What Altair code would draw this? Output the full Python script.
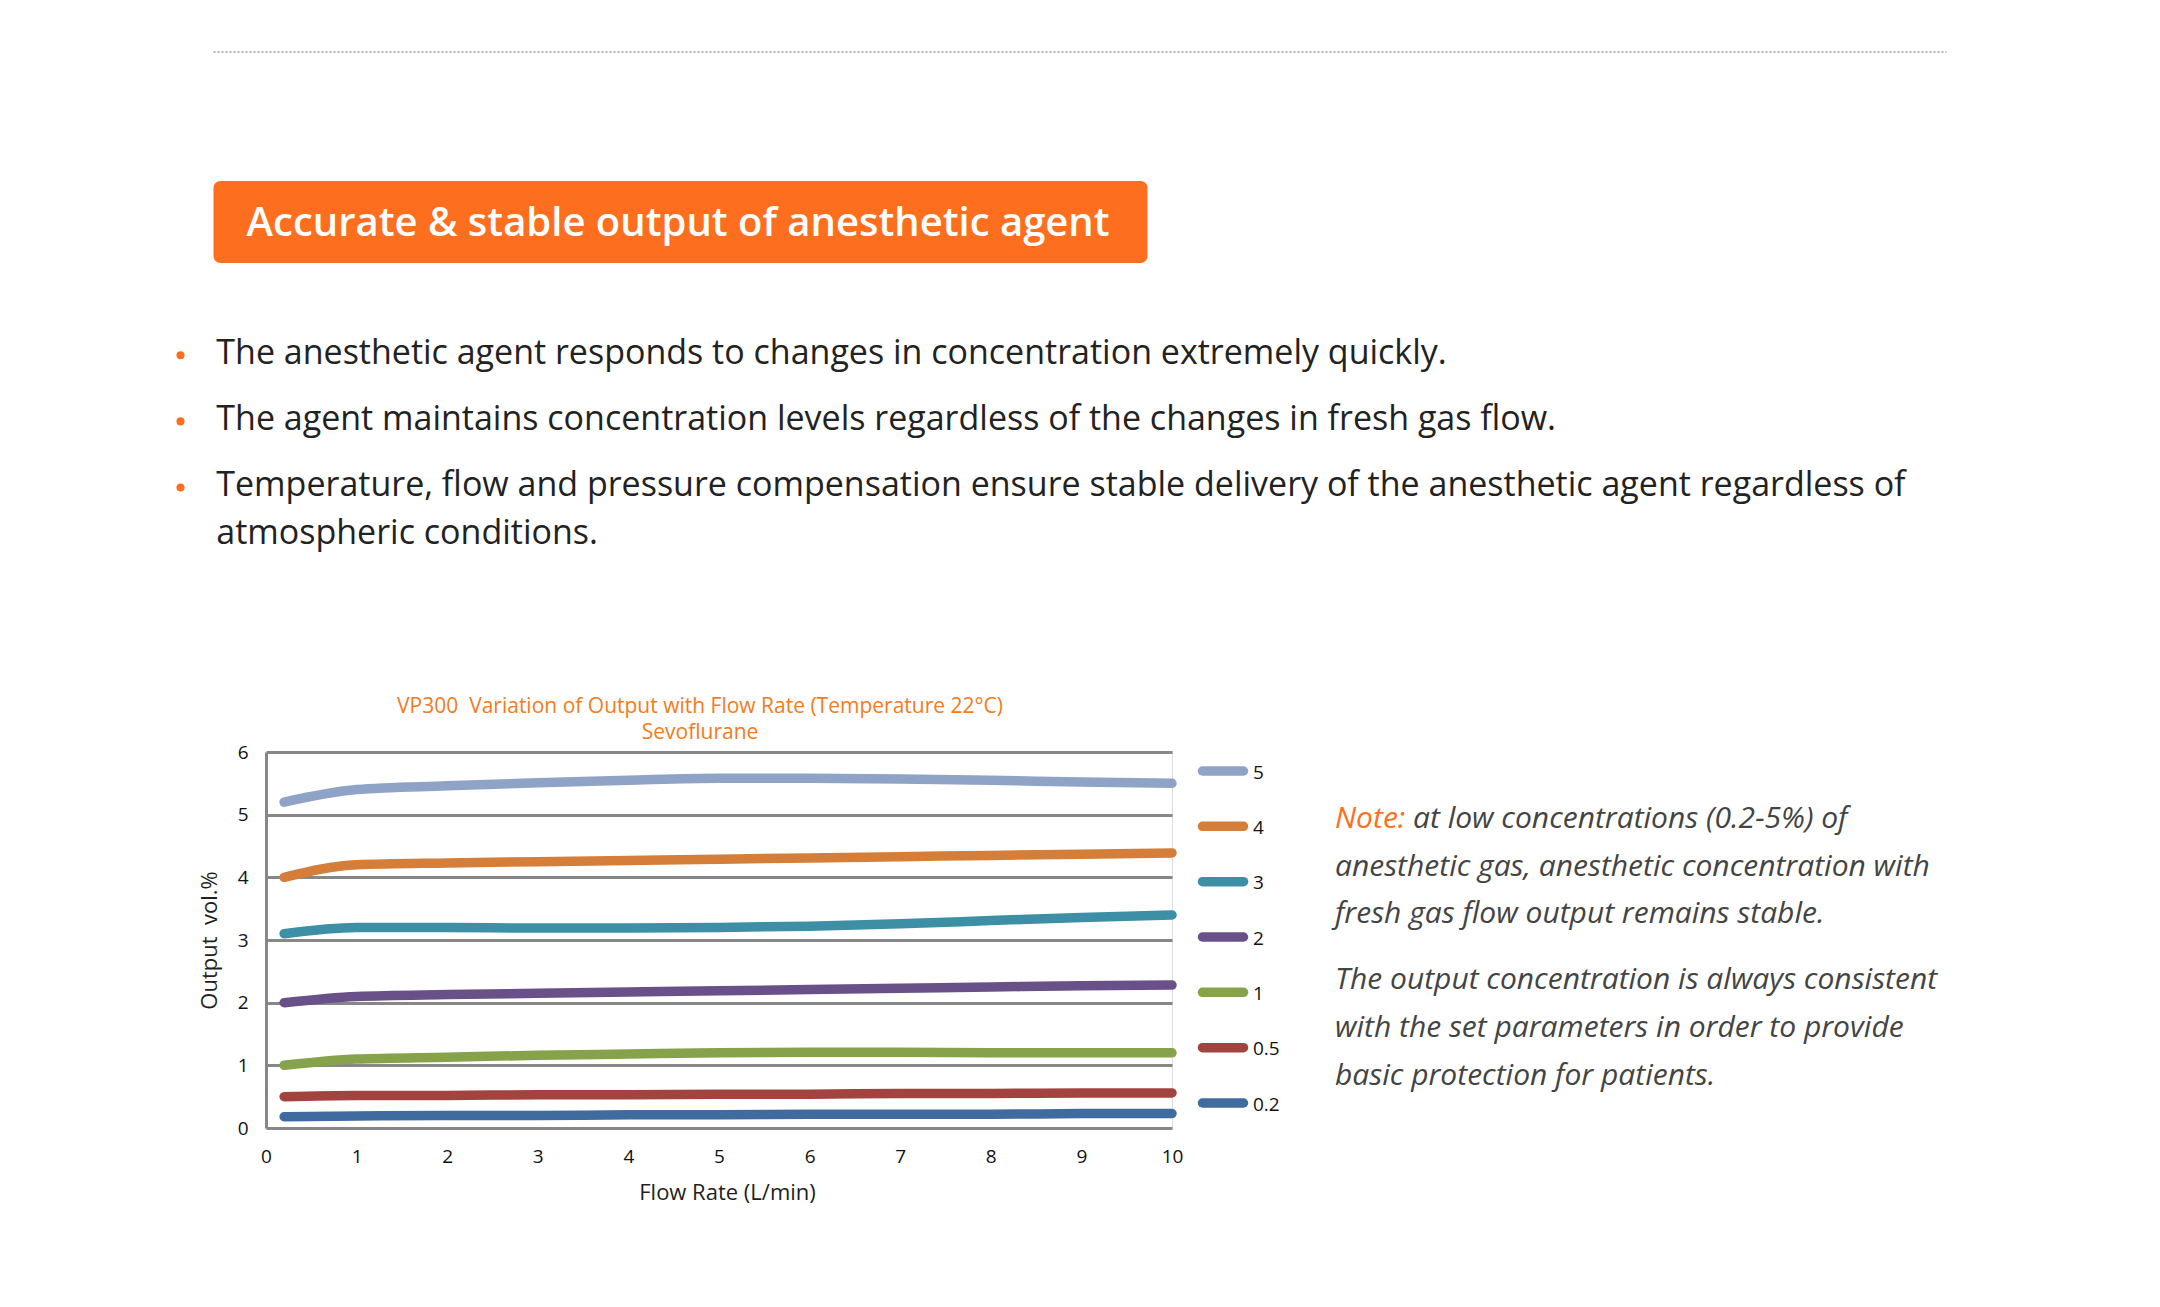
import altair as alt
import pandas as pd

# ---------------- data ----------------
flow = [0.2, 1, 2, 3, 4, 5, 6, 7, 8, 9, 10]
series_order = ["5", "4", "3", "2", "1", "0.5", "0.2"]
out_5 = [5.20, 5.40, 5.46, 5.51, 5.55, 5.58, 5.58, 5.57, 5.55, 5.52, 5.50]
out_4 = [4.00, 4.20, 4.23, 4.25, 4.27, 4.29, 4.31, 4.33, 4.35, 4.37, 4.39]
out_3 = [3.10, 3.20, 3.20, 3.19, 3.19, 3.20, 3.22, 3.26, 3.31, 3.36, 3.40]
out_2 = [2.00, 2.10, 2.13, 2.15, 2.17, 2.19, 2.21, 2.23, 2.25, 2.27, 2.28]
out_1 = [1.00, 1.10, 1.13, 1.16, 1.18, 1.20, 1.21, 1.21, 1.20, 1.20, 1.20]
out_05 = [0.50, 0.52, 0.52, 0.53, 0.53, 0.54, 0.54, 0.55, 0.55, 0.56, 0.56]
out_02 = [0.18, 0.19, 0.20, 0.20, 0.21, 0.21, 0.22, 0.22, 0.22, 0.23, 0.23]
series_values = [out_5, out_4, out_3, out_2, out_1, out_05, out_02]
series_colors = ["#8EA3C6", "#D57E39", "#3D8FA6", "#6A5089", "#86A24A", "#A34340", "#406B9E"]

x_ticks = [0, 1, 2, 3, 4, 5, 6, 7, 8, 9, 10]
y_ticks = [0, 1, 2, 3, 4, 5, 6]

header_text = ["Accurate & stable output of anesthetic agent"]
bullet_lines = [
    "The anesthetic agent responds to changes in concentration extremely quickly.",
    "The agent maintains concentration levels regardless of the changes in fresh gas flow.",
    "Temperature, flow and pressure compensation ensure stable delivery of the anesthetic agent regardless of",
    "atmospheric conditions.",
]
bullet_has_dot = [True, True, True, False]
note_label = ["Note:"]
note_lines = [
    "at low concentrations (0.2-5%) of",
    "anesthetic gas, anesthetic concentration with",
    "fresh gas flow output remains stable.",
    "The output concentration is always consistent",
    "with the set parameters in order to provide",
    "basic protection for patients.",
]
chart_title = ["VP300\u00a0\u00a0Variation of Output with Flow Rate (Temperature 22\u00b0C)", "Sevoflurane"]
x_title = "Flow Rate (L/min)"
y_title = "Output\u00a0\u00a0vol.%"

# ---------------- tables ----------------
rows = []
for s, vals in zip(series_order, series_values):
    for f, v in zip(flow, vals):
        rows.append({"series": s, "flow": f, "output": v})
df = pd.DataFrame(rows)
legend_df = pd.DataFrame({"series": series_order})

FONT = "Open Sans"
ORANGE = "#FD6F1E"

color = alt.Color("series:N", scale=alt.Scale(domain=series_order, range=series_colors), legend=None)

lines = alt.Chart(df).mark_line(strokeWidth=9.5, strokeCap="round", strokeJoin="round",
                                interpolate="monotone").encode(
    x=alt.X("flow:Q", scale=alt.Scale(domain=[0, 10], nice=False),
            axis=alt.Axis(values=x_ticks, title=x_title, grid=False, domain=False,
                          ticks=False, labelFontSize=19, labelPadding=19, labelColor="#111",
                          labelFlush=False,
                          labelFont=FONT, titleFont=FONT, titleFontSize=22, titleFontWeight="normal",
                          titleColor="#231F20", titlePadding=16, titleX=461)),
    y=alt.Y("output:Q", scale=alt.Scale(domain=[0, 6], nice=False),
            axis=alt.Axis(values=y_ticks, title=y_title, grid=True, gridColor="#878787",
                          gridWidth=3, domain=True, domainColor="#878787", domainWidth=3,
                          ticks=False, labelFontSize=19, labelPadding=18, labelColor="#111",
                          labelFont=FONT, titleFont=FONT, titleFontSize=22, titleFontWeight="normal",
                          titleColor="#231F20", titlePadding=16)),
    color=color,
    detail="series:N",
)

leg_y = alt.Y("series:N", scale=alt.Scale(type="point", domain=series_order, range=[19, 351], padding=0),
              axis=None)
legend_sw = alt.Chart(legend_df).mark_rule(strokeWidth=9.5, strokeCap="round").encode(
    x=alt.value(936.5), x2=alt.value(977.5), y=leg_y, color=color)
legend_tx = alt.Chart(legend_df).mark_text(align="left", baseline="middle", font=FONT, fontSize=19,
                                           color="#111", dy=1.5).encode(
    x=alt.value(987), y=leg_y, text="series:N")

# ---------- annotations (page decoration) ----------
title_df = pd.DataFrame({"t": chart_title, "dy": [-45, -19]})
title_mark = alt.Chart(title_df).mark_text(align="center", baseline="middle", font=FONT, fontSize=21,
                                           color="#F47B20").encode(
    x=alt.value(434), y=alt.Y("dy:Q", scale=None), text="t:N")

dotted = alt.Chart(pd.DataFrame({"a": [0]})).mark_rule(strokeWidth=1, color="#666",
                                                        strokeDash=[2, 2]).encode(
    x=alt.value(-52.5), x2=alt.value(1680.6), y=alt.value(-700))

box = alt.Chart(pd.DataFrame({"a": [0]})).mark_rect(color=ORANGE, cornerRadius=7).encode(
    x=alt.value(-52.5), x2=alt.value(881.5), y=alt.value(-571), y2=alt.value(-489))
header = alt.Chart(pd.DataFrame({"t": header_text})).mark_text(
    align="left", baseline="middle", font=FONT, fontSize=40, fontWeight=600, color="white").encode(
    x=alt.value(-19.4), y=alt.value(-528), text="t:N")

bullet_df = pd.DataFrame({"t": bullet_lines, "dot": bullet_has_dot,
                          "yy": [-398.2, -332.1, -266.0, -217.8]})
bullet_text = alt.Chart(bullet_df).mark_text(align="left", baseline="middle", font=FONT, fontSize=34,
                                             color="#222").encode(
    x=alt.value(-49.7), y=alt.Y("yy:Q", scale=None), text="t:N")
bullet_dots = alt.Chart(bullet_df).transform_filter("datum.dot").mark_circle(
    size=65, color=ORANGE, opacity=1, yOffset=1.5).encode(
    x=alt.value(-85.5), y=alt.Y("yy:Q", scale=None))

note_df = pd.DataFrame({"t": note_lines, "yy": [66.5, 114.5, 161.5, 227.5, 275.5, 324.0],
                        "xx": [1147, 1069, 1069, 1069, 1069, 1069]})
note_text = alt.Chart(note_df).mark_text(align="left", baseline="middle", font=FONT, fontSize=30,
                                         fontStyle="italic", color="#444").encode(
    x=alt.X("xx:Q", scale=None), y=alt.Y("yy:Q", scale=None), text="t:N")
note_head = alt.Chart(pd.DataFrame({"t": note_label})).mark_text(
    align="left", baseline="middle", font=FONT, fontSize=30, fontStyle="italic", color=ORANGE).encode(
    x=alt.value(1069), y=alt.value(66.5), text="t:N")

chart = alt.layer(
    lines, legend_sw, legend_tx, title_mark, dotted, box, header, bullet_text, bullet_dots,
    note_text, note_head
).resolve_scale(y="independent", x="independent").properties(
    width=906, height=376,
    padding={"left": 258, "top": 744, "right": 970, "bottom": 160},
    autosize=alt.AutoSizeParams(type="none"),
).configure_view(stroke=None).configure(background="white")

chart.save("out.html", embed_options={"renderer": "svg", "actions": False})
